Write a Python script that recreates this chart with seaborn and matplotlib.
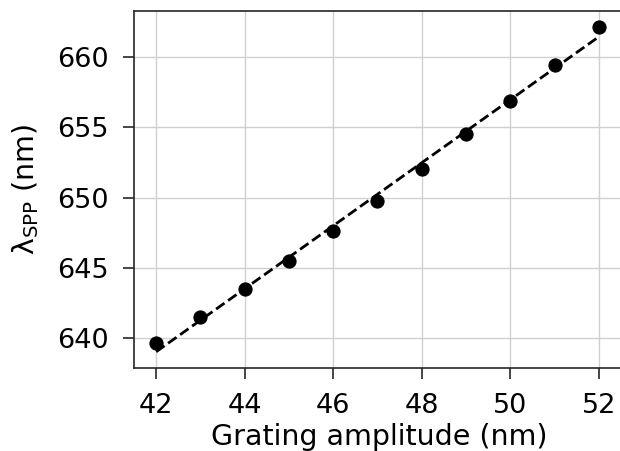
import numpy as np
import matplotlib
matplotlib.use("Agg")
import matplotlib.pyplot as plt
import seaborn as sns
import pandas as pd

amplitude = [42, 43, 44, 45, 46, 47, 48, 49, 50, 51, 52]
wavelength = [639.62, 641.52, 643.5, 645.5, 647.64, 649.79, 652.07, 654.5, 656.88, 659.45, 662.14]
xticks = [42, 44, 46, 48, 50, 52]
yticks = [640, 645, 650, 655, 660]

sns.set_theme(style="ticks")
plt.rcParams['font.family'] = ['DejaVu Sans']

df = pd.DataFrame({"amp": amplitude, "wl": wavelength})
coef = np.polyfit(df["amp"], df["wl"], 1)
df["fit"] = np.polyval(coef, df["amp"])

fig = plt.figure(figsize=(6.2, 4.51), dpi=100)
ax = fig.add_axes([134/620, (451-368)/451, (624-134)/620, (368-11)/451])

ax.grid(True, color="#d0d0d0", linewidth=1)
ax.set_axisbelow(True)
sns.lineplot(data=df, x="amp", y="fit", ax=ax, color="black", linestyle="--", linewidth=2)
sns.scatterplot(data=df, x="amp", y="wl", ax=ax, color="black", s=90, edgecolor="black", zorder=3)

ax.set_xticks(xticks)
ax.set_yticks(yticks)
ax.set_xlim(41.5, 52.57)
ax.tick_params(axis="both", labelsize=19.5, length=8, width=1.2, color="#262626", labelcolor="black", pad=10)
ax.set_xlabel("Grating amplitude (nm)", fontsize=20.5, color="black", labelpad=3)
ax.set_ylabel("λ$_{\\mathrm{SPP}}$ (nm)", fontsize=20.5, color="black", labelpad=12)
for s in ax.spines.values():
    s.set_color("#262626")
    s.set_linewidth(1.2)

fig.savefig("out.png", dpi=100)
